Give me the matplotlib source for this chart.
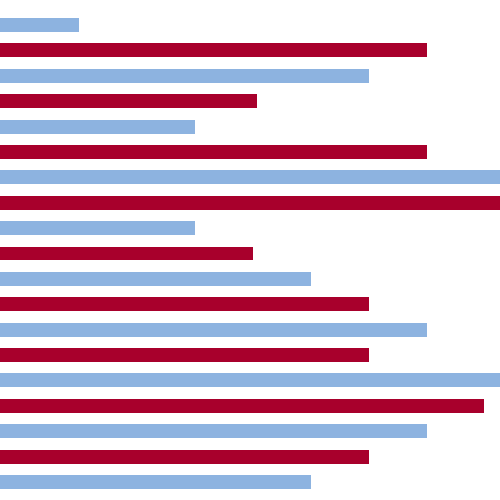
import matplotlib
matplotlib.use("Agg")
import matplotlib.pyplot as plt
import numpy as np

values = [2, 8, 7, 5.07, 4, 8, 10, 10, 4, 5, 6, 7, 8, 7, 10, 9, 8, 7, 6]
series = ["blue", "red"] * 9 + ["blue"]
colors = {"blue": "#8db3e0", "red": "#a8002c"}

fig = plt.figure(figsize=(5, 5), dpi=100)
ax = fig.add_axes([0, 0, 1, 1])
pos = np.arange(len(values))
ax.barh(pos, values, height=0.55, color=[colors[s] for s in series], linewidth=0)
ax.set_xlim(0.63, 9.27)
ax.set_ylim(18.71, -0.985)
ax.axis("off")
fig.savefig("out.png", dpi=100, facecolor="white")
